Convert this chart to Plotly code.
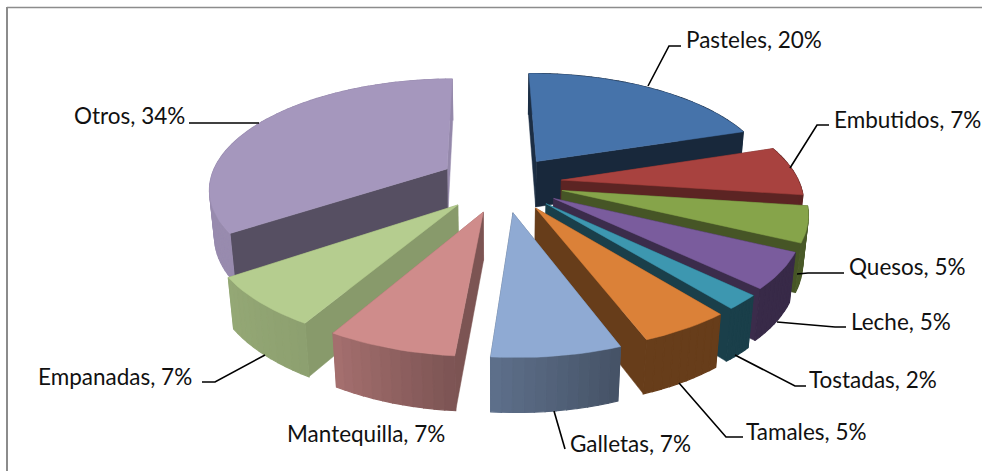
import numpy as np
import plotly.graph_objects as go

# --- data ---
categories = ["Pasteles", "Embutidos", "Quesos", "Leche", "Tostadas", "Tamales", "Galletas", "Mantequilla", "Empanadas", "Otros"]
values = [20, 7, 5, 5, 2, 5, 7, 7, 7, 34]

# --- styles ---
top_colors = ["#4673AA", "#A8423F", "#86A44A", "#7A5C9D", "#3D97B0", "#DB8138", "#8FAAD3", "#CF8C8B", "#B5CD8F", "#A597BD"]
# shade factors: start radial face, outer wall at start, outer wall at end, end radial face
shade_start = [0.40, 0.55, 0.52, 0.48, 0.45, 0.47, 0.60, 0.60, 0.75, 0.52]
shade_outer_a = [0.42, 0.55, 0.55, 0.46, 0.42, 0.47, 0.48, 0.60, 0.78, 0.92]
shade_outer_b = [0.42, 0.55, 0.55, 0.46, 0.42, 0.47, 0.66, 0.80, 0.82, 0.92]
shade_end = [0.35, 0.55, 0.52, 0.48, 0.42, 0.47, 0.55, 0.78, 0.75, 0.90]
explosion = [0.2451, 0.2447, 0.2527, 0.2496, 0.2548, 0.2589, 0.2682, 0.2726, 0.2732, 0.2732]
draw_order = [9, 0, 1, 2, 3, 4, 8, 7, 5, 6]

# --- projection of the 3D pie ---
VX, A, VY, B, RX, RY, P, T0, H, Q = 495.99, 7.56, 190.66, -8.22, 237.84, 110.46, 0.1671, -0.009, 47.28, 0.0178
v = np.array(values, float)
edges = np.cumsum(np.r_[0, v / v.sum() * 2 * np.pi])


def proj(i, r, th, z):
    mid = (edges[i] + edges[i + 1]) / 2 + T0
    X = explosion[i] * np.sin(mid) + r * np.sin(th + T0)
    Y = explosion[i] * np.cos(mid) + r * np.cos(th + T0)
    w = 1 + P * Y + Q * z
    return VX + (A + RX * X) / w, VY + (B - RY * Y + H * z) / w


def shade(hex_color, f):
    c = [int(hex_color[k:k + 2], 16) for k in (1, 3, 5)]
    return "rgb(%d,%d,%d)" % tuple(round(x * f) for x in c)


fig = go.Figure()


def poly(xs, ys, color, lw=0.5):
    fig.add_trace(go.Scatter(x=list(xs), y=list(ys), mode="lines", fill="toself", fillcolor=color,
                             line=dict(color=color, width=lw), hoverinfo="skip", showlegend=False))


for i in draw_order:
    a0, a1 = edges[i], edges[i + 1]
    n = max(6, int((a1 - a0) / 0.035))
    th = np.linspace(a0, a1, n + 1)
    faces = []
    # radial faces
    for ang, f in ((a0, shade_start[i]), (a1, shade_end[i])):
        xa, ya = proj(i, 0, ang, 0); xb, yb = proj(i, 1, ang, 0)
        xc, yc = proj(i, 1, ang, 1); xd, yd = proj(i, 0, ang, 1)
        depth = np.cos(ang + T0) * 0.5
        faces.append((depth, [xa, xb, xc, xd, xa], [ya, yb, yc, yd, ya], shade(top_colors[i], f), 0.5))
    # outer wall, split in strips so that the light can vary
    for k in range(n):
        t0, t1 = th[k], th[k + 1]
        xa, ya = proj(i, 1, t0, 0); xb, yb = proj(i, 1, t1, 0)
        xc, yc = proj(i, 1, t1, 1); xd, yd = proj(i, 1, t0, 1)
        f = shade_outer_a[i] + (shade_outer_b[i] - shade_outer_a[i]) * (k + 0.5) / n
        faces.append((np.cos((t0 + t1) / 2 + T0), [xa, xb, xc, xd, xa], [ya, yb, yc, yd, ya], shade(top_colors[i], f), 1.2))
    for _, xs, ys, col, lw in sorted(faces, key=lambda q: -q[0]):
        poly(xs, ys, col, lw)
    # top face
    xt, yt = proj(i, 1, th, 0)
    xo, yo = proj(i, 0, 0, 0)
    poly(np.r_[xo, xt, xo], np.r_[yo, yt, yo], top_colors[i])

# --- leader lines and labels ---
leaders = [
    [(648, 86), (669, 46), (681, 46)],
    [(790, 168), (817, 125), (829, 125)],
    [(797, 274), (808, 273), (844, 273)],
    [(777, 322), (835, 327), (846, 327)],
    [(735, 355), (795, 386), (806, 386)],
    [(679, 383), (726, 437), (743, 437)],
    [(554, 411), (565, 449)],
    [(265, 355), (215, 382), (202, 382)],
    [(259, 123), (189, 123)],
]
for path in leaders:
    fig.add_trace(go.Scatter(x=[p[0] for p in path], y=[p[1] for p in path], mode="lines",
                             line=dict(color="black", width=1.6), hoverinfo="skip", showlegend=False))

label_x = [685, 833, 848, 850, 808, 745, 569, 286, 37, 73]
label_y = [39, 119, 266, 321, 379, 431, 443, 433, 376, 115]
for name, val, x, y in zip(categories, values, label_x, label_y):
    fig.add_annotation(x=x, y=y, xref="x", yref="y", text=f"{name}, {val}%", showarrow=False, captureevents=False,
                       xanchor="left", yanchor="middle", xshift=-1, font=dict(family="Lato", size=22.5, color="#111111"))

fig.add_shape(type="line", x0=7, x1=982, y0=7.5, y1=7.5, line=dict(color="#8c8c8c", width=1.5))
fig.add_shape(type="line", x0=7, x1=7, y0=7, y1=471, line=dict(color="#8c8c8c", width=2))

fig.update_layout(width=982, height=471, margin=dict(l=0, r=0, t=0, b=0), paper_bgcolor="white", plot_bgcolor="white",
                  xaxis=dict(range=[0, 982], visible=False, fixedrange=True),
                  yaxis=dict(range=[471, 0], visible=False, fixedrange=True), showlegend=False)
fig.write_html("out.html", config={"displayModeBar": False},
               post_script="document.body.style.margin='0';document.documentElement.style.overflow='hidden';")
